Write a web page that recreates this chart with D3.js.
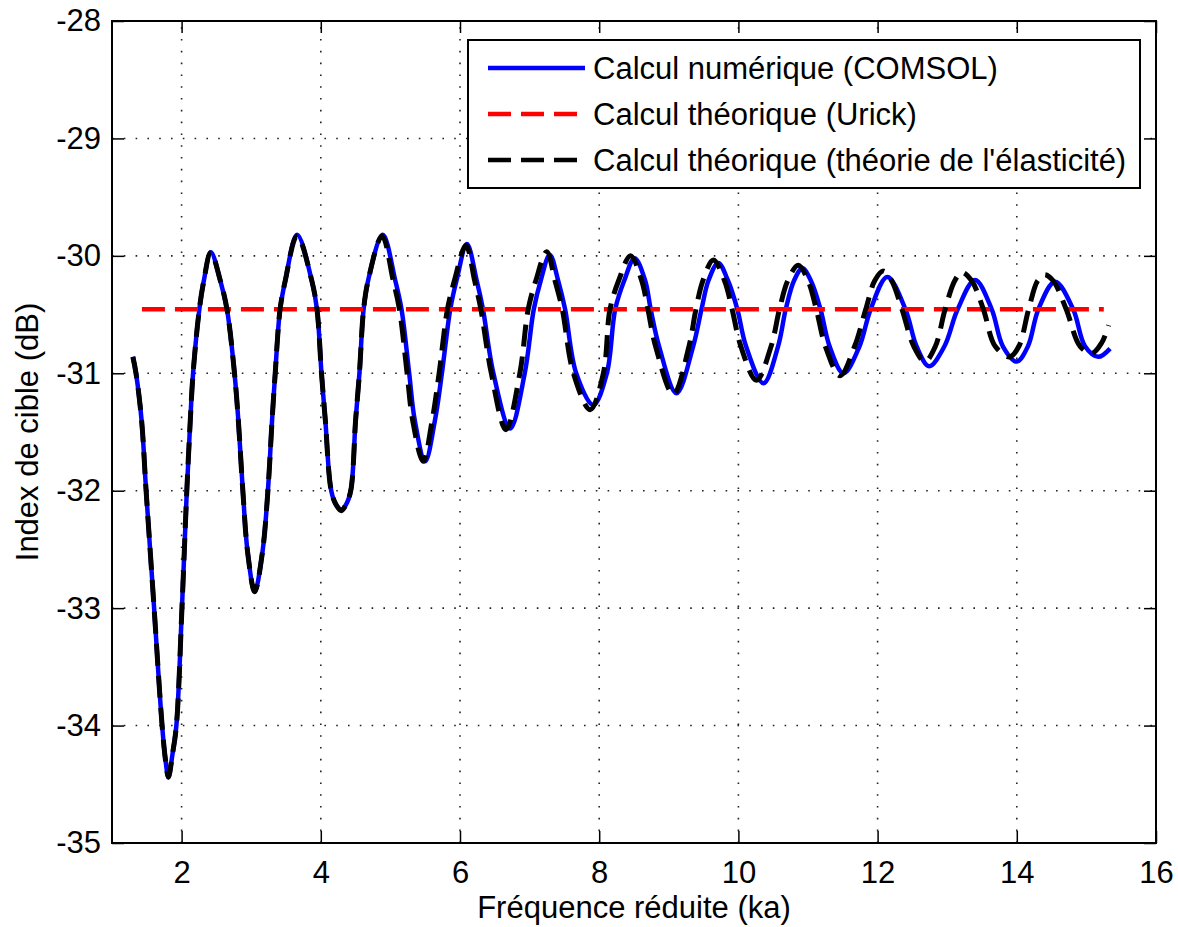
<!DOCTYPE html>
<html>
<head>
<meta charset="utf-8">
<script src="https://cdn.jsdelivr.net/npm/d3@7"></script>
<style>
  html, body { margin: 0; padding: 0; background: #fff; }
  svg { display: block; }
  text { font-family: "Liberation Sans", Arial, sans-serif; fill: #000; }
</style>
</head>
<body>
<svg id="chart" width="1178" height="927"></svg>
<script>
// ---- data ----
const xTicks = [2, 4, 6, 8, 10, 12, 14, 16];
const yTicks = [-35, -34, -33, -32, -31, -30, -29, -28];

// Calcul numérique (COMSOL)
const comsolX = [1.30, 1.345, 1.425, 1.49, 1.605, 1.72, 1.77, 1.81, 1.87, 1.925, 2.005, 2.075, 2.125, 2.165, 2.255, 2.32, 2.42,
  2.556, 2.652, 2.76, 2.815, 2.88, 2.95, 3.05, 3.16, 3.24, 3.30, 3.345, 3.415, 3.49, 3.66,
  3.87, 3.945, 4.01, 4.065, 4.15, 4.22, 4.295, 4.36, 4.43, 4.50, 4.555, 4.615, 4.68, 4.89,
  5.07, 5.16, 5.27, 5.35, 5.50, 5.64, 5.74, 5.86, 5.95, 6.10, 6.24, 6.33, 6.48, 6.72, 6.93, 7.06, 7.16, 7.29,
  7.41, 7.51, 7.67, 7.915, 8.11, 8.23, 8.36, 8.51, 8.66, 8.74, 8.86, 9.11, 9.35, 9.47, 9.57, 9.71,
  9.85, 9.985, 10.11, 10.36, 10.57, 10.68, 10.80, 10.92, 11.04, 11.18, 11.31, 11.51, 11.74, 11.90, 12.14,
  12.40, 12.56, 12.74, 12.96, 13.15, 13.40, 13.64, 13.80, 14.00, 14.16, 14.31, 14.55, 14.81, 14.98, 15.17, 15.34];
const comsolY = [-30.86, -31.00, -31.40, -32.00, -33.00, -34.00, -34.30, -34.44, -34.24, -34.00, -33.00, -32.00, -31.40, -31.00, -30.455, -30.21, -29.97,
  -30.21, -30.455, -31.00, -31.40, -32.00, -32.53, -32.86, -32.53, -32.00, -31.40, -31.00, -30.455, -30.21, -29.82,
  -30.21, -30.455, -31.00, -31.40, -32.00, -32.12, -32.16, -32.12, -32.00, -31.40, -31.00, -30.455, -30.21, -29.82,
  -30.21, -30.455, -31.00, -31.40, -31.75, -31.40, -31.00, -30.455, -30.21, -29.90, -30.21, -30.455, -31.00, -31.47, -31.00, -30.455, -30.21, -29.99,
  -30.21, -30.455, -31.00, -31.27, -31.00, -30.455, -30.21, -30.02, -30.21, -30.455, -30.77, -31.17, -30.77, -30.455, -30.21, -30.06,
  -30.21, -30.455, -30.77, -31.085, -30.77, -30.455, -30.21, -30.106, -30.21, -30.455, -30.77, -31.00, -30.77, -30.455, -30.18,
  -30.455, -30.77, -30.94, -30.77, -30.455, -30.205, -30.455, -30.77, -30.90, -30.77, -30.455, -30.22, -30.455, -30.77, -30.86, -30.79];

// Calcul théorique (Urick)
const urickX = [1.43, 15.25];
const urickY = [-30.455, -30.455];

// Calcul théorique (théorie de l'élasticité)
const elastX = [1.30, 1.345, 1.425, 1.49, 1.605, 1.72, 1.77, 1.81, 1.87, 1.925, 2.005, 2.075, 2.125, 2.165, 2.255, 2.32, 2.42,
  2.556, 2.652, 2.76, 2.815, 2.88, 2.95, 3.05, 3.16, 3.24, 3.30, 3.345, 3.415, 3.49, 3.66,
  3.87, 3.945, 4.01, 4.065, 4.15, 4.22, 4.295, 4.36, 4.43, 4.50, 4.555, 4.615, 4.68, 4.88,
  5.04, 5.13, 5.24, 5.32, 5.47, 5.60, 5.70, 5.82, 5.92, 6.085, 6.21, 6.30, 6.45, 6.66, 6.86, 6.98, 7.09, 7.245,
  7.365, 7.47, 7.63, 7.87, 8.06, 8.155, 8.28, 8.45, 8.61, 8.70, 8.81, 9.065, 9.29, 9.39, 9.49, 9.64,
  9.80, 9.91, 10.035, 10.26, 10.47, 10.59, 10.71, 10.86, 11.00, 11.12, 11.25, 11.46, 11.67, 11.83, 11.96, 12.08,
  12.20, 12.35, 12.52, 12.68, 12.83, 12.97, 13.11, 13.21, 13.35, 13.52, 13.69, 13.90, 14.03, 14.17, 14.30, 14.40,
  14.52, 14.71, 14.91, 15.08, 15.22, 15.32];
const elastY = [-30.86, -31.00, -31.40, -32.00, -33.00, -34.00, -34.30, -34.44, -34.24, -34.00, -33.00, -32.00, -31.40, -31.00, -30.455, -30.21, -29.97,
  -30.21, -30.455, -31.00, -31.40, -32.00, -32.53, -32.86, -32.53, -32.00, -31.40, -31.00, -30.455, -30.21, -29.83,
  -30.21, -30.455, -31.00, -31.40, -32.00, -32.12, -32.17, -32.12, -32.00, -31.40, -31.00, -30.455, -30.21, -29.83,
  -30.21, -30.455, -31.00, -31.40, -31.75, -31.40, -31.00, -30.455, -30.21, -29.91, -30.21, -30.455, -31.00, -31.48, -31.00, -30.455, -30.21, -29.965,
  -30.21, -30.455, -31.00, -31.31, -31.00, -30.455, -30.21, -30.00, -30.21, -30.455, -30.77, -31.18, -30.77, -30.455, -30.21, -30.035,
  -30.21, -30.455, -30.77, -31.06, -30.77, -30.455, -30.21, -30.08, -30.21, -30.455, -30.77, -31.02, -30.77, -30.455, -30.21, -30.13,
  -30.21, -30.455, -30.77, -30.90, -30.77, -30.455, -30.21, -30.14, -30.21, -30.455, -30.77, -30.86, -30.77, -30.455, -30.21, -30.16,
  -30.21, -30.455, -30.77, -30.83, -30.74, -30.59];

const legendLabels = ["Calcul numérique (COMSOL)", "Calcul théorique (Urick)", "Calcul théorique (théorie de l'élasticité)"];

// ---- layout ----
const L = 112, R = 1156, T = 21, B = 843;
const svg = d3.select("#chart");
const x = d3.scaleLinear().domain([1, 16]).range([L, R]);
const y = d3.scaleLinear().domain([-35, -28]).range([B, T]);
const FS = "31px";

// grid (dotted)
const grid = svg.append("g").attr("stroke", "#222").attr("stroke-width", 1.6).attr("stroke-dasharray", "1.6,10.2");
grid.selectAll(".gx").data(xTicks.filter(d => d < 16)).join("line")
  .attr("x1", d => x(d)).attr("x2", d => x(d)).attr("y1", B).attr("y2", T);
grid.selectAll(".gy").data(yTicks.filter(d => d > -35 && d < -28)).join("line")
  .attr("x1", L).attr("x2", R).attr("y1", d => y(d)).attr("y2", d => y(d));

// axes
const fmt = d => String(d);
const gB = svg.append("g").attr("transform", `translate(0,${B})`)
  .call(d3.axisBottom(x).tickValues(xTicks).tickSizeInner(-12).tickSizeOuter(0).tickPadding(18).tickFormat(fmt));
const gL = svg.append("g").attr("transform", `translate(${L},0)`)
  .call(d3.axisLeft(y).tickValues(yTicks).tickSizeInner(-12).tickSizeOuter(0).tickPadding(11).tickFormat(fmt));
const gT = svg.append("g").attr("transform", `translate(0,${T})`)
  .call(d3.axisTop(x).tickValues(xTicks).tickSizeInner(-12).tickSizeOuter(0).tickFormat(""));
const gR = svg.append("g").attr("transform", `translate(${R},0)`)
  .call(d3.axisRight(y).tickValues(yTicks).tickSizeInner(-12).tickSizeOuter(0).tickFormat(""));
[gB, gL, gT, gR].forEach(g => {
  g.select(".domain").remove();
  g.selectAll(".tick line").attr("stroke", "#000").attr("stroke-width", 1.5);
  g.selectAll("text").attr("font-size", FS).attr("font-family", "Liberation Sans, Arial, sans-serif").attr("fill", "#000");
});
// box
svg.append("rect").attr("x", L).attr("y", T).attr("width", R - L).attr("height", B - T)
  .attr("fill", "none").attr("stroke", "#000").attr("stroke-width", 2);

// lines
const mk = (xs, ys) => xs.map((v, i) => [v, ys[i]]);
const line = d3.line().x(d => x(d[0])).y(d => y(d[1])).curve(d3.curveCatmullRom.alpha(0.5));
svg.append("path").datum(mk(comsolX, comsolY)).attr("d", line)
  .attr("fill", "none").attr("stroke", "#0000ff").attr("stroke-width", 4.5).attr("stroke-linejoin", "round");
svg.append("path").datum(mk(urickX, urickY)).attr("d", d3.line().x(d => x(d[0])).y(d => y(d[1])))
  .attr("fill", "none").attr("stroke", "#ff0000").attr("stroke-width", 4.5).attr("stroke-dasharray", "23,10");
svg.append("path").datum(mk(elastX, elastY)).attr("d", line)
  .attr("fill", "none").attr("stroke", "#000").attr("stroke-width", 5).attr("stroke-dasharray", "22,10");

// legend
const lg = svg.append("g");
lg.append("rect").attr("x", 468).attr("y", 40).attr("width", 672).attr("height", 148)
  .attr("fill", "#fff").attr("stroke", "#000").attr("stroke-width", 2);
const styles = [
  { c: "#0000ff", dash: null },
  { c: "#ff0000", dash: "23,10" },
  { c: "#000", dash: "23,10" }
];
const rowY = [68, 114, 160];
legendLabels.forEach((lab, i) => {
  lg.append("line").attr("x1", 488).attr("x2", 585).attr("y1", rowY[i]).attr("y2", rowY[i])
    .attr("stroke", styles[i].c).attr("stroke-width", 4.5)
    .attr("stroke-dasharray", styles[i].dash);
  lg.append("text").attr("x", 593).attr("y", rowY[i]).attr("dy", "0.35em")
    .attr("font-size", FS).text(lab);
});

// axis titles
svg.append("text").attr("x", (L + R) / 2).attr("y", 918).attr("text-anchor", "middle")
  .attr("font-size", FS).text("Fréquence réduite (ka)");
svg.append("text").attr("transform", `translate(38,${(T + B) / 2}) rotate(-90)`).attr("text-anchor", "middle")
  .attr("font-size", FS).text("Index de cible (dB)");
</script>
</body>
</html>
